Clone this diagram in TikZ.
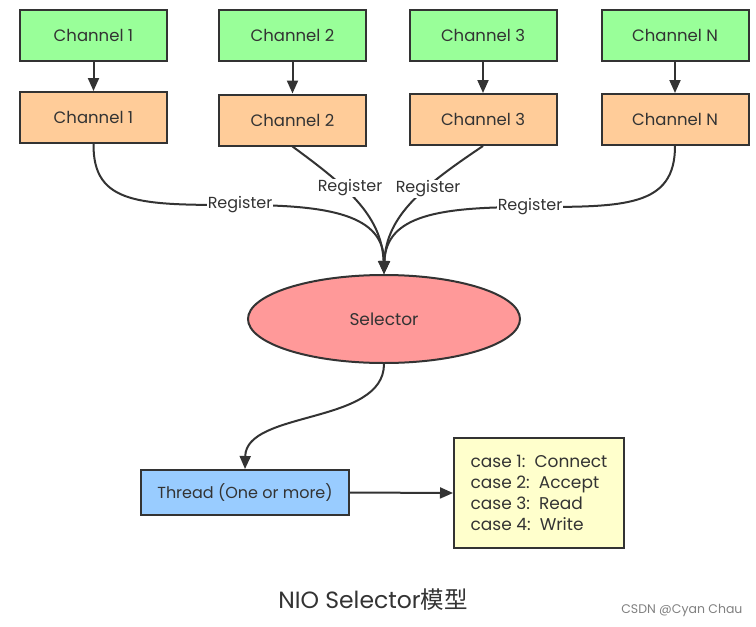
\documentclass[tikz,border=0pt]{standalone}
\usepackage{fontspec}
\setmainfont{Poppins}
\newfontfamily\cjk{Noto Sans CJK SC}
\usetikzlibrary{arrows.meta,shapes.geometric}
\definecolor{ink}{HTML}{333333}
\definecolor{cgreen}{HTML}{99FF99}
\definecolor{corange}{HTML}{FFCC99}
\definecolor{cblue}{HTML}{99CCFF}
\definecolor{cyellow}{HTML}{FFFFCC}
\definecolor{cpink}{HTML}{FF9999}
\tikzset{
  box/.style={draw=ink, line width=2pt, minimum width=147pt, minimum height=51pt, inner sep=0pt, text=ink, font=\fontsize{16.5}{18}\selectfont},
  gbox/.style={box, fill=cgreen},
  obox/.style={box, fill=corange},
  conn/.style={draw=ink, line width=2pt, -{Triangle[length=13pt,width=11pt]}},
  lab/.style={fill=white, inner sep=1pt, text=ink, font=\fontsize{16}{18}\selectfont},
}
\begin{document}
\begin{tikzpicture}[x=1pt,y=-1pt]
\useasboundingbox (0,0) rectangle (756,627);
\node[gbox] (g1) at (93.5,35) {Channel 1};
\node[obox] (o1) at (93.5,117.5) {Channel 1};
\node[gbox] (g2) at (292.5,35) {Channel 2};
\node[obox] (o2) at (292.5,120) {Channel 2};
\node[gbox] (g3) at (483,35) {Channel 3};
\node[obox] (o3) at (483,119.5) {Channel 3};
\node[gbox] (gN) at (675,35) {Channel N};
\node[obox] (oN) at (675,119.5) {Channel N};
\foreach \a/\b in {g1/o1,g2/o2,g3/o3,gN/oN} \draw[conn] (\a) -- (\b);

\node[ellipse, draw=ink, line width=2pt, fill=cpink, minimum width=272pt, minimum height=88pt, text=ink, font=\fontsize{17}{19}\selectfont] (sel) at (384,319) {Selector};

\coordinate (r1) at (240,205);
\coordinate (rN) at (530,207);
\draw[conn] (o1.south) .. controls (93,205) and (140,205) .. (r1) .. controls (330,205) and (384,215) .. (sel.north);
\draw[conn] (oN.south) .. controls (675,207) and (625,207) .. (rN) .. controls (440,207) and (386,215) .. (sel.north);
\draw[conn] (o2.south) .. controls (345,185) and (382,215) .. (sel.north);
\draw[conn] (o3.south) .. controls (425,185) and (386,215) .. (sel.north);
\node[lab] at (r1) {Register};
\node[lab] at (rN) {Register};
\node[lab] at (350,188) {Register};
\node[lab] at (428,189) {Register};

\node[draw=ink, line width=2pt, fill=cblue, minimum width=208pt, minimum height=45pt, inner sep=0pt, text=ink, font=\fontsize{16}{18}\selectfont] (th) at (245,492.5) {Thread (One or more)};
\node[draw=ink, line width=2pt, fill=cyellow, minimum width=170pt, minimum height=110pt, inner sep=0pt, text=ink, align=left, font=\fontsize{17}{21}\selectfont] (cs) at (539,493) {case 1:\ \ Connect\\case 2:\ \ Accept\\case 3:\ \ Read\\case 4:\ \ Write};

\draw[conn] (sel.south) .. controls (384,425) and (246,410) .. (th.north);
\draw[conn] (th.east) -- (cs.west);

\node[text=ink, font=\fontsize{23.5}{26}\selectfont] (cap) at (373,600) {NIO Selector{\cjk 模型}};
\node[text=gray, font=\fontsize{12.5}{14}\selectfont, anchor=east] (wm) at (746,610) {CSDN @Cyan Chau};
\end{tikzpicture}
\end{document}
